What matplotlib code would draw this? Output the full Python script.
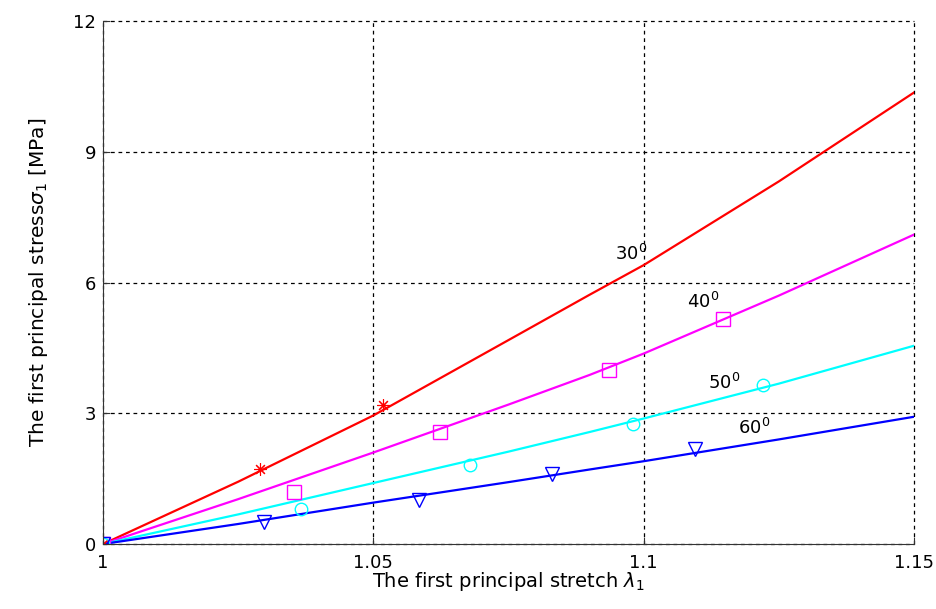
import numpy as np
import matplotlib.pyplot as plt

plt.rcParams['font.family'] = ['DejaVu Sans']
plt.rcParams['mathtext.fontset'] = 'dejavusans'

# fitted model curves
stretch_fit = [1.0, 1.025, 1.05, 1.075, 1.09, 1.1, 1.125, 1.15]
stress_30 = [0.0, 1.43, 2.95, 4.68, 5.72, 6.4, 8.32, 10.36]
stress_40 = [0.0, 1.03, 2.1, 3.2, 3.88, 4.37, 5.7, 7.1]
stress_50 = [0.0, 0.68, 1.4, 2.12, 2.57, 2.88, 3.68, 4.55]
stress_60 = [0.0, 0.46, 0.95, 1.42, 1.71, 1.9, 2.4, 2.92]

# measured points
x_30 = [1.0, 1.029, 1.0517]
y_30 = [0.0, 1.73, 3.18]
x_40 = [1.0, 1.0353, 1.0623, 1.0935, 1.1147]
y_40 = [0.0, 1.2, 2.57, 4.0, 5.16]
x_50 = [1.0, 1.0366, 1.0678, 1.098, 1.122]
y_50 = [0.0, 0.8, 1.82, 2.75, 3.64]
x_60 = [1.0, 1.0297, 1.0585, 1.083, 1.1095]
y_60 = [0.0, 0.5, 1.02, 1.6, 2.18]

fig = plt.figure(figsize=(9.37, 6.09), dpi=100)
ax = fig.add_axes([0.110, 0.1067, 0.8655, 0.8588])

ax.plot(stretch_fit, stress_30, color='red', lw=1.6)
ax.plot(stretch_fit, stress_40, color='magenta', lw=1.6)
ax.plot(stretch_fit, stress_50, color='cyan', lw=1.6)
ax.plot(stretch_fit, stress_60, color='blue', lw=1.6)

ax.plot(x_30, y_30, marker=(8, 2, 0), ls='none', color='red', ms=9, mew=0.8)
ax.plot(x_40, y_40, 's', color='magenta', ms=10, mfc='none', mew=1)
ax.plot(x_50, y_50, 'o', color='cyan', ms=9, mfc='none', mew=1)
ax.plot(x_60, y_60, 'v', color='blue', ms=10, mfc='none', mew=1)

ax.text(1.0947, 6.51, r'30$^0$', fontsize=13, va='baseline')
ax.text(1.108, 5.41, r'40$^0$', fontsize=13, va='baseline')
ax.text(1.1119, 3.55, r'50$^0$', fontsize=13, va='baseline')
ax.text(1.1174, 2.52, r'60$^0$', fontsize=13, va='baseline')

ax.set_xlim(1.0, 1.15)
ax.set_ylim(0, 12)
ax.set_xticks([1.0, 1.05, 1.1, 1.15])
ax.set_xticklabels(['1', '1.05', '1.1', '1.15'])
ax.set_yticks([0, 3, 6, 9, 12])
ax.tick_params(labelsize=13, direction='in', length=5, color='#333333', pad=5)
ax.tick_params(axis='x', pad=7)
ax.grid(True, ls=(0, (3, 3)), color='black', lw=0.9)
for gl in ax.get_xgridlines() + ax.get_ygridlines():
    gl.set_clip_on(False)
ax.spines['top'].set_visible(False)
ax.spines['right'].set_visible(False)
for s in ['left', 'bottom']:
    ax.spines[s].set_color('#333333')
ax.set_axisbelow(True)

ax.set_xlabel(r'The first principal stretch $\lambda_1$', fontsize=14)
ax.set_ylabel(r'The first principal stress$\sigma_1$ [MPa]', fontsize=14.5)
ax.xaxis.set_label_coords(0.5, -0.049)
ax.yaxis.set_label_coords(-0.065, 0.5)

fig.savefig('out.png', dpi=100)
